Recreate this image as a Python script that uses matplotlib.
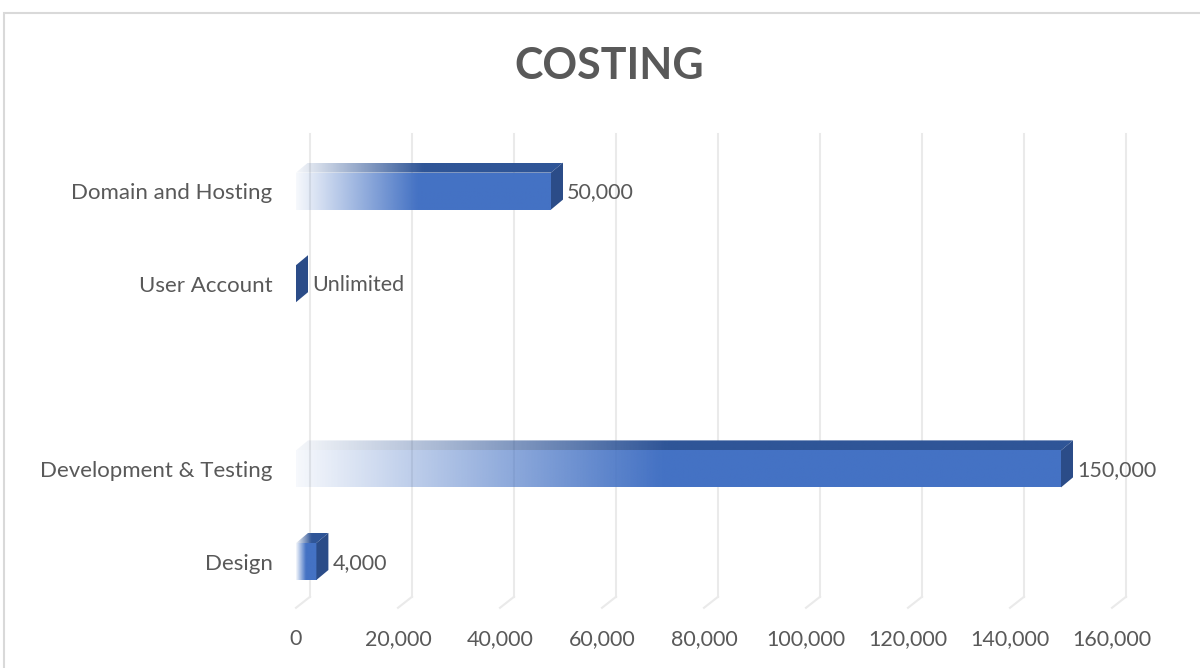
import matplotlib.pyplot as plt
import numpy as np
from matplotlib.patches import Polygon, Rectangle
from matplotlib.colors import to_rgb

plt.rcParams['font.family'] = ['Lato', 'DejaVu Sans']

# data (bottom to top, as drawn)
categories = ['Design', 'Development & Testing', '', 'User Account', 'Domain and Hosting']
values = [4000, 150000, None, 0, 50000]
value_labels = ['4,000', '150,000', '', 'Unlimited', '50,000']
x_ticks = [0, 20000, 40000, 60000, 80000, 100000, 120000, 140000, 160000]

front_col = '#4472C4'
top_col = '#2F5597'
side_col = '#2B4C88'
text_col = '#595959'
grid_col = '#EAEAEA'

W, H = 1200, 668
fig = plt.figure(figsize=(12, 6.68), dpi=100)
ax = fig.add_axes([296 / W, 60.2 / H, 816 / W, 463 / H])
ax.set_xlim(0, 160000)
ax.set_ylim(-0.5, 4.5)

# pixel -> data conversion for the 3D depth
px_x = 160000 / 816
px_y = 5 / 463
dx, dy = 12 * px_x, 10 * px_y      # bar depth
gdx, gdy = 14 * px_x, 11 * px_y    # back wall depth
bh = 37 * px_y


def gradient(color, n=256):
    rgb = to_rgb(color)
    t = np.linspace(0, 1, n)
    a = np.clip(0.05 + t / 0.5, 0, 1)
    img = np.zeros((1, n, 4))
    img[0, :, :3] = rgb
    img[0, :, 3] = a
    return img


# back wall gridlines with floor diagonal
for t in x_ticks:
    ax.plot([t, t + gdx], [-0.5, -0.5 + gdy], color=grid_col, lw=1.5,
            clip_on=False, zorder=1)
    ax.plot([t + gdx, t + gdx], [-0.5 + gdy, 4.5 + gdy], color=grid_col,
            lw=1.5, clip_on=False, zorder=1)

for i, v in enumerate(values):
    if v is None:
        continue
    y0, y1 = i - bh / 2, i + bh / 2
    if v > 0:
        # front face
        ax.imshow(gradient(front_col), extent=(0, v, y0, y1), aspect='auto',
                  interpolation='bilinear', zorder=3)
        # top face
        top = Polygon([(0, y1), (v, y1), (v + dx, y1 + dy), (dx, y1 + dy)],
                      closed=True, facecolor='none', edgecolor='none')
        ax.add_patch(top)
        im = ax.imshow(gradient(top_col), extent=(0, v + dx, y1, y1 + dy),
                       aspect='auto', interpolation='bilinear', zorder=3)
        im.set_clip_path(top)
    # right side face
    side = Polygon([(v, y0), (v + dx, y0 + dy), (v + dx, y1 + dy), (v, y1)],
                   closed=True, facecolor=side_col, edgecolor='none', zorder=4)
    ax.add_patch(side)
    ax.annotate(value_labels[i], xy=(v + dx, i), xytext=(3, -1),
                textcoords='offset points', va='center', ha='left',
                fontsize=15.5, color=text_col, annotation_clip=False)

ax.set_xlim(0, 160000)
ax.set_ylim(-0.5, 4.5)
ax.set_xticks(x_ticks)
ax.set_xticklabels([f'{t:,}' for t in x_ticks])
ax.set_yticks(range(len(categories)))
ax.set_yticklabels(categories)
ax.tick_params(axis='x', length=0, pad=15, labelsize=15.5, labelcolor=text_col)
ax.tick_params(axis='y', length=0, pad=17, labelsize=16, labelcolor=text_col)
for s in ax.spines.values():
    s.set_visible(False)

fig.text(609 / W, 1 - 66 / H, 'COSTING', ha='center', va='center',
         fontsize=31, fontweight='bold', color=text_col)

fig.add_artist(Rectangle((4 / W, -0.1), 1.2, (H - 13) / H + 0.1,
                         transform=fig.transFigure, fill=False,
                         edgecolor='#D9D9D9', lw=1.5))

fig.savefig('out.png', dpi=100)
